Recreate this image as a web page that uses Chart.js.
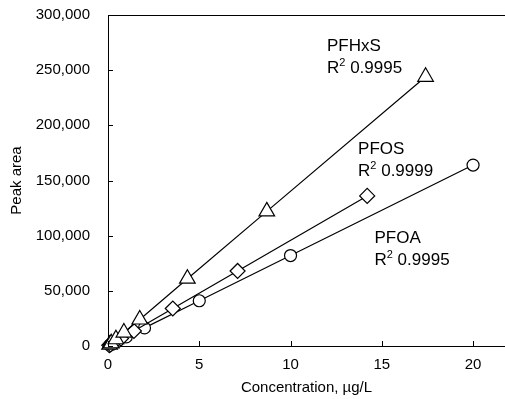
<!DOCTYPE html>
<html>
<head>
<meta charset="utf-8">
<script src="https://cdn.jsdelivr.net/npm/chart.js@4.4.0/dist/chart.umd.min.js"></script>
<style>
  html, body { margin: 0; padding: 0; background: #fff; }
  #wrap { width: 505px; height: 399px; }
</style>
</head>
<body>
<div id="wrap"><canvas id="calChart" width="505" height="399"></canvas></div>
<script>
// calibration points, concentration in ug/L and peak area
const pfhxsConc = [0.087, 0.174, 0.435, 0.87, 1.74, 4.35, 8.7, 17.4];
const pfhxsArea = [1200, 2450, 6100, 12200, 24000, 61000, 122000, 244000];
const pfosConc = [0.071, 0.142, 0.355, 0.71, 1.42, 3.55, 7.1, 14.2];
const pfosArea = [680, 1360, 3400, 6800, 13600, 34000, 68000, 136000];
const pfoaConc = [0.1, 0.2, 0.5, 1, 2, 5, 10, 20];
const pfoaArea = [820, 1640, 4100, 8200, 16400, 41000, 82000, 164000];

const xTicks = [0, 5, 10, 15, 20];
const yTicks = [0, 50000, 100000, 150000, 200000, 250000, 300000];

// text next to each line
const labelNames = ["PFHxS", "PFOS", "PFOA"];
const labelR2 = ["0.9995", "0.9999", "0.9995"];
const labelAtX = [12.0, 13.7, 14.6];
const labelAtY = [267000, 174000, 93500];

const FONT = "'Liberation Sans', Arial, sans-serif";

function toPoints(xs, ys) {
  return xs.map((x, i) => ({ x: x, y: ys[i] }));
}

function series(label, xs, ys, shape, radius) {
  return {
    label: label,
    data: toPoints(xs, ys),
    borderColor: "#000",
    borderWidth: 1.2,
    pointStyle: shape,
    pointRadius: radius,
    pointBorderWidth: 1.2,
    pointBorderColor: "#000",
    pointBackgroundColor: "#fff",
    showLine: true,
    fill: false,
    tension: 0,
    clip: false,
  };
}

// inside tick marks, top frame line and the series labels
const frameAndLabels = {
  id: "frameAndLabels",
  afterDatasetsDraw(chart) {
    const ctx = chart.ctx;
    const area = chart.chartArea;
    const xs = chart.scales.x;
    const ys = chart.scales.y;
    ctx.save();
    ctx.strokeStyle = "#000";
    ctx.lineWidth = 1;
    ctx.beginPath();
    ctx.moveTo(area.left, area.top + 0.5);
    ctx.lineTo(area.right, area.top + 0.5);
    xTicks.forEach((v) => {
      const px = Math.round(xs.getPixelForValue(v)) + 0.5;
      ctx.moveTo(px, area.bottom);
      ctx.lineTo(px, area.bottom - 5);
    });
    yTicks.forEach((v) => {
      const py = Math.round(ys.getPixelForValue(v)) + 0.5;
      ctx.moveTo(area.left, py);
      ctx.lineTo(area.left + 5, py);
    });
    ctx.stroke();

    ctx.fillStyle = "#000";
    ctx.textBaseline = "alphabetic";
    ctx.textAlign = "left";
    labelNames.forEach((name, i) => {
      const px = xs.getPixelForValue(labelAtX[i]);
      const py = ys.getPixelForValue(labelAtY[i]);
      ctx.font = "17px " + FONT;
      ctx.fillText(name, px, py);
      const y2 = py + 22;
      ctx.fillText("R", px, y2);
      const rw = ctx.measureText("R").width;
      ctx.font = "11px " + FONT;
      ctx.fillText("2", px + rw, y2 - 7);
      const sw = ctx.measureText("2").width;
      ctx.font = "17px " + FONT;
      ctx.fillText(" " + labelR2[i], px + rw + sw, y2);
    });
    ctx.restore();
  },
};

const ctx = document.getElementById("calChart").getContext("2d");
new Chart(ctx, {
  type: "scatter",
  data: {
    datasets: [
      series("PFHxS", pfhxsConc, pfhxsArea, "triangle", 9),
      series("PFOS", pfosConc, pfosArea, "rectRot", 7.5),
      series("PFOA", pfoaConc, pfoaArea, "circle", 6),
    ],
  },
  options: {
    responsive: false,
    animation: false,
    layout: { autoPadding: false, padding: { top: 15, right: 0, bottom: 0, left: 0 } },
    plugins: {
      legend: { display: false },
      tooltip: { enabled: false },
    },
    scales: {
      x: {
        type: "linear",
        min: 0,
        max: 21.75,
        afterFit: (s) => {
          s.height = 53;
          s.paddingLeft = 0;
          s.paddingRight = 0;
        },
        afterBuildTicks: (s) => { s.ticks = xTicks.map((v) => ({ value: v })); },
        ticks: {
          color: "#000",
          padding: 10,
          maxRotation: 0,
          font: { family: FONT, size: 15 },
        },
        grid: { drawOnChartArea: false, drawTicks: false },
        border: { color: "#000", width: 1 },
        title: {
          display: true,
          text: "Concentration, µg/L",
          color: "#000",
          font: { family: FONT, size: 15 },
          padding: { top: 2, bottom: 2 },
        },
      },
      y: {
        type: "linear",
        min: 0,
        max: 300000,
        afterFit: (s) => {
          s.width = 108;
          s.paddingTop = 0;
          s.paddingBottom = 0;
        },
        afterBuildTicks: (s) => { s.ticks = yTicks.map((v) => ({ value: v })); },
        ticks: {
          color: "#000",
          padding: 18,
          font: { family: FONT, size: 15 },
          callback: (v) => v.toLocaleString("en-US"),
        },
        grid: { drawOnChartArea: false, drawTicks: false },
        border: { color: "#000", width: 1 },
        title: {
          display: true,
          text: "Peak area",
          color: "#000",
          font: { family: FONT, size: 15 },
          padding: { top: 8, bottom: 8 },
        },
      },
    },
  },
  plugins: [frameAndLabels],
});
</script>
</body>
</html>
